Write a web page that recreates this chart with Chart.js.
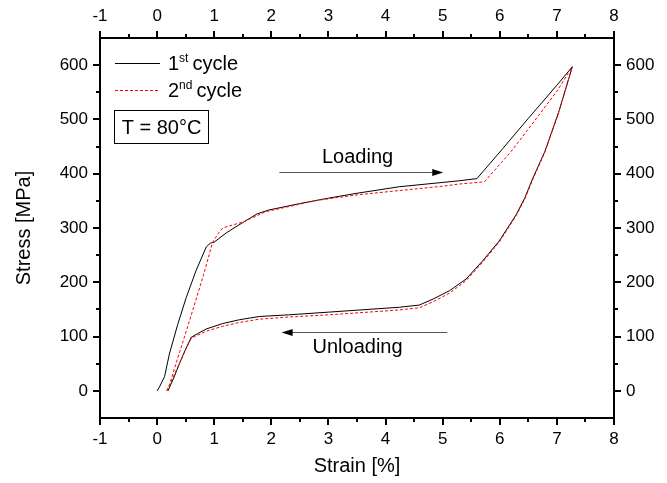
<!DOCTYPE html>
<html>
<head>
<meta charset="utf-8">
<script src="https://cdn.jsdelivr.net/npm/chart.js@4.4.1/dist/chart.umd.min.js"></script>
<style>
	html, body { margin: 0; padding: 0; background: #fff; }
	#wrap { width: 667px; height: 483px; }
</style>
</head>
<body>
<div id="wrap"><canvas id="chart" width="667" height="483"></canvas></div>
<script>
// strain [%] / stress [MPa]
var load1X = [0, 0.04, 0.13, 0.215, 0.36, 0.51, 0.68, 0.86, 0.93, 1.0, 1.21, 1.5, 1.75, 1.95, 2.5, 3.0, 3.5, 4.24, 5.29, 5.6, 6.05, 6.5, 7.0, 7.27];
var load1Y = [0, 7, 26, 68, 122, 172, 221, 265, 272, 274, 291, 310, 326, 333, 345, 355, 364, 376, 387, 391, 446, 502, 563, 597];
var unload1X = [0.19, 0.3, 0.39, 0.5, 0.6, 0.86, 1.15, 1.44, 1.79, 2.3, 3.0, 4.24, 4.59, 4.83, 5.12, 5.41, 5.7, 5.99, 6.29, 6.44, 6.58, 6.79, 7.03, 7.27];
var unload1Y = [0, 26, 50, 77, 99, 114, 124, 131, 137, 140, 145, 154, 158, 169, 184.5, 206, 239.5, 276, 325, 356, 392, 441, 513, 597];
var load2X = [0.17, 0.22, 0.33, 0.57, 0.8, 0.97, 1.07, 1.15, 1.27, 1.5, 1.9, 2.5, 2.81, 3.5, 4.24, 5.0, 5.29, 5.73, 6.2, 6.7, 7.0, 7.27];
var load2Y = [0, 12, 50, 130, 209, 273, 290, 300, 304, 311, 330, 344, 351, 361, 369, 377, 381, 385, 441, 510, 552, 597];
var unload2X = [0.17, 0.28, 0.39, 0.5, 0.6, 0.86, 1.15, 1.44, 1.79, 2.3, 3.0, 4.24, 4.59, 4.83, 5.12, 5.41, 5.7, 5.99, 6.29, 6.44, 6.58, 6.79, 7.03, 7.27];
var unload2Y = [0, 25, 50, 76, 97, 110, 119, 126, 132, 136, 140, 149, 153, 164, 180, 203, 237, 274, 323, 354, 390, 440, 512, 597];

var xTickLabels = [-1, 0, 1, 2, 3, 4, 5, 6, 7, 8];
var yTickLabels = [0, 100, 200, 300, 400, 500, 600];

var loadingArrow = { x1: 2.14, x2: 5.01, y: 404, label: 'Loading', labelX: 3.51, labelY: 429 };
var unloadingArrow = { x1: 5.08, x2: 2.18, y: 108, label: 'Unloading', labelX: 3.51, labelY: 79 };

function toPoints(xs, ys) {
	return xs.map(function (x, i) { return { x: x, y: ys[i] }; });
}

var FONT = '"Liberation Sans", Arial, sans-serif';

function axis(position, min, max, step, labels, size) {
	return {
		type: 'linear',
		position: position,
		min: min,
		max: max,
		grid: { display: true, drawOnChartArea: false, drawTicks: true, tickLength: 7, color: 'rgba(0,0,0,0)' },
		border: { display: true, color: '#000', width: 2 },
		ticks: {
			stepSize: step,
			autoSkip: false,
			maxRotation: 0,
			padding: (position === 'left' || position === 'right') ? 5 : 4,
			color: '#000',
			font: { family: FONT, size: 17 },
			callback: function (v) { return labels.indexOf(v) >= 0 ? String(v) : ''; }
		},
		afterFit: function (scale) {
			if (position === 'left' || position === 'right') {
				scale.width = size;
			} else {
				scale.height = size;
			}
		}
	};
}

var xScale = axis('bottom', -1, 8, 0.5, xTickLabels, 65);
xScale.title = { display: true, text: 'Strain [%]', color: '#000', font: { family: FONT, size: 20 }, padding: { top: 0, bottom: 5 } };
var x2Scale = axis('top', -1, 8, 0.5, xTickLabels, 38);
var yScale = axis('left', -50, 650, 50, yTickLabels, 100);
yScale.title = { display: true, text: 'Stress [MPa]', color: '#000', font: { family: FONT, size: 20 }, padding: { top: 12, bottom: 0 } };
var y2Scale = axis('right', -50, 650, 50, yTickLabels, 53);

var tickMarks = {
	id: 'tickMarks',
	afterDraw: function (chart) {
		var ctx = chart.ctx;
		var area = chart.chartArea;
		ctx.save();
		ctx.strokeStyle = '#000';
		ctx.lineWidth = 2;
		['x', 'x2', 'y', 'y2'].forEach(function (id) {
			var scale = chart.scales[id];
			var horiz = scale.isHorizontal();
			var labels = horiz ? xTickLabels : yTickLabels;
			scale.ticks.forEach(function (t) {
				var v = Math.round(t.value * 100) / 100;
				var major = labels.indexOf(v) >= 0;
				if (!horiz && !major && (v <= scale.min || v >= scale.max)) {
					return;
				}
				var len = major ? 7 : 4;
				var p = Math.round(scale.getPixelForValue(v));
				ctx.beginPath();
				if (scale.position === 'bottom') {
					ctx.moveTo(p, area.bottom); ctx.lineTo(p, area.bottom + len);
				} else if (scale.position === 'top') {
					ctx.moveTo(p, area.top); ctx.lineTo(p, area.top - len);
				} else if (scale.position === 'left') {
					ctx.moveTo(area.left, p); ctx.lineTo(area.left - len, p);
				} else {
					ctx.moveTo(area.right, p); ctx.lineTo(area.right + len, p);
				}
				ctx.stroke();
			});
		});
		ctx.restore();
	}
};

function arrow(ctx, x1, x2, y) {
	var dir = x2 > x1 ? 1 : -1;
	ctx.strokeStyle = '#555';
	ctx.lineWidth = 1;
	ctx.beginPath();
	ctx.moveTo(x1, y);
	ctx.lineTo(x2 - dir * 8, y);
	ctx.stroke();
	ctx.fillStyle = '#000';
	ctx.beginPath();
	ctx.moveTo(x2, y);
	ctx.lineTo(x2 - dir * 11, y - 3.5);
	ctx.lineTo(x2 - dir * 11, y + 3.5);
	ctx.closePath();
	ctx.fill();
}

var annotations = {
	id: 'annotations',
	afterDatasetsDraw: function (chart) {
		var ctx = chart.ctx;
		var xs = chart.scales.x;
		var ys = chart.scales.y;
		var area = chart.chartArea;
		ctx.save();

		[loadingArrow, unloadingArrow].forEach(function (a) {
			var py = Math.round(ys.getPixelForValue(a.y)) + 0.5;
			arrow(ctx, xs.getPixelForValue(a.x1), xs.getPixelForValue(a.x2), py);
			ctx.fillStyle = '#000';
			ctx.font = '20px ' + FONT;
			ctx.textAlign = 'center';
			ctx.textBaseline = 'middle';
			ctx.fillText(a.label, xs.getPixelForValue(a.labelX), ys.getPixelForValue(a.labelY));
		});

		// legend
		var lx = area.left + 15;
		ctx.lineWidth = 1;
		ctx.strokeStyle = '#000';
		ctx.beginPath();
		ctx.moveTo(lx, area.top + 25.5);
		ctx.lineTo(lx + 45, area.top + 25.5);
		ctx.stroke();
		ctx.strokeStyle = '#ff0000';
		ctx.setLineDash([3, 2]);
		ctx.beginPath();
		ctx.moveTo(lx, area.top + 52.5);
		ctx.lineTo(lx + 45, area.top + 52.5);
		ctx.stroke();
		ctx.setLineDash([]);

		ctx.fillStyle = '#000';
		ctx.textAlign = 'left';
		ctx.textBaseline = 'alphabetic';
		[['1', 'st', area.top + 32], ['2', 'nd', area.top + 59]].forEach(function (row) {
			var tx = lx + 53;
			ctx.font = '20px ' + FONT;
			ctx.fillText(row[0], tx, row[2]);
			tx += ctx.measureText(row[0]).width;
			ctx.font = '12px ' + FONT;
			ctx.fillText(row[1], tx, row[2] - 8);
			tx += ctx.measureText(row[1]).width + 4;
			ctx.font = '20px ' + FONT;
			ctx.fillText('cycle', tx, row[2]);
		});

		// temperature box
		ctx.lineWidth = 1;
		ctx.strokeStyle = '#000';
		ctx.strokeRect(area.left + 14.5, area.top + 72.5, 94, 33);
		ctx.font = '20px ' + FONT;
		ctx.textAlign = 'center';
		ctx.textBaseline = 'middle';
		ctx.fillText('T = 80°C', area.left + 61.5, area.top + 90);

		ctx.restore();
	}
};

function series(xs, ys, color, dashed) {
	return {
		data: toPoints(xs, ys),
		showLine: true,
		borderColor: color,
		borderWidth: 1,
		borderDash: dashed ? [3, 2] : [],
		pointRadius: 0,
		tension: 0,
		xAxisID: 'x',
		yAxisID: 'y'
	};
}

new Chart(document.getElementById('chart'), {
	type: 'scatter',
	data: {
		datasets: [
			series(load2X, load2Y, '#ff0000', true),
			series(unload2X, unload2Y, '#ff0000', true),
			series(load1X, load1Y, '#000000', false),
			series(unload1X, unload1Y, '#000000', false)
		]
	},
	options: {
		responsive: false,
		animation: false,
		devicePixelRatio: 1,
		layout: { padding: 0 },
		plugins: { legend: { display: false }, tooltip: { enabled: false } },
		scales: { x: xScale, x2: x2Scale, y: yScale, y2: y2Scale }
	},
	plugins: [tickMarks, annotations]
});
</script>
</body>
</html>
